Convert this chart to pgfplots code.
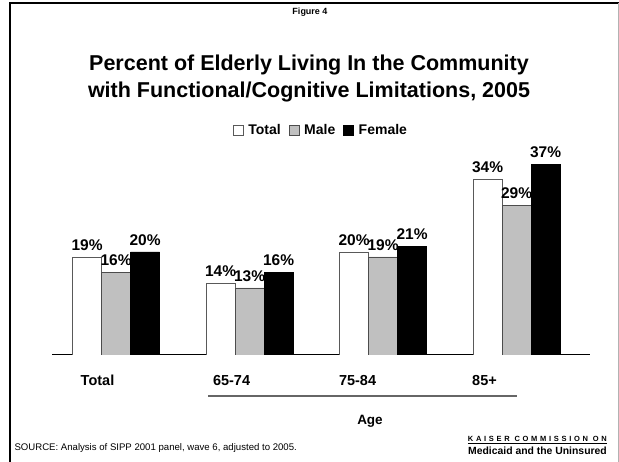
\documentclass[border=0pt]{standalone}
\usepackage{fontspec}
\setmainfont{Liberation Sans}
\setsansfont{Liberation Sans}
\usepackage{pgfplots}
\pgfplotsset{compat=1.18}
\definecolor{barGray}{RGB}{192,192,192}
\begin{document}
\begin{tikzpicture}[x=1pt,y=1pt]
  \useasboundingbox (0,0) rectangle (619,462);
  % frame
  \draw[line width=2pt] (10,0) -- (10,459) -- (619,459);
  \draw[gray!60,line width=0.8pt] (618,459) -- (618,0);
  % headings
  \node[font=\fontsize{9}{10}\selectfont\bfseries] at (310,450) {Figure 4};
  \node[font=\fontsize{21.5}{27}\selectfont\bfseries,align=center] at (309,384)
    {Percent of Elderly Living In the Community\\with Functional/Cognitive Limitations, 2005};
  \begin{axis}[
    at={(52pt,107pt)}, anchor=south west,
    scale only axis, width=538pt, height=206.4pt,
    xmin=-0.48, xmax=3.55, ymin=0, ymax=40,
    axis x line=bottom, axis y line=none,
    axis line style={-,black,line width=1pt},
    ybar=0pt, bar width=29pt,
    xtick={-0.139,0.865,1.809,2.76},
    xticklabels={Total,65-74,75-84,85+},
    major tick length=0pt,
    xticklabel style={font=\fontsize{14.5}{15}\selectfont\bfseries,anchor=base,yshift=-31pt},
    ytick=\empty,
    /pgf/number format/assume math mode=true,
    nodes near coords={\pgfmathprintnumber{\pgfplotspointmeta}\%},
    every node near coord/.append style={font=\fontsize{15.5}{16}\selectfont\bfseries,black,yshift=3pt},
    legend style={draw=none,at={(0.5,1.09)},anchor=center,
      font=\fontsize{14}{15}\selectfont\bfseries,
      /tikz/every odd column/.append style={column sep=3pt},
      /tikz/every even column/.append style={column sep=6pt}},
    legend columns=-1,
    legend image code/.code={\draw[#1] (0pt,-5pt) rectangle (10pt,5pt);},
  ]
    \addplot[fill=white,draw=gray!70!black] coordinates {(0,19) (1,14) (2,20) (3,34)};
    \addplot[fill=barGray,draw=gray!60!black] coordinates {(0,16) (1,13) (2,19) (3,29)};
    \addplot[fill=black,draw=black] coordinates {(0,20) (1,16) (2,21) (3,37)};
    \legend{Total,Male,Female}
  \end{axis}
  % age bracket
  \draw[gray!80!black,line width=1.5pt] (208,66) -- (517,66);
  \node[font=\fontsize{13.5}{14}\selectfont\bfseries] at (370,41) {Age};
  % footer
  \node[anchor=west,font=\fontsize{9.6}{10}\selectfont] at (11,14)
    {SOURCE: Analysis of SIPP 2001 panel, wave 6, adjusted to 2005.};
  \node[anchor=east,font=\fontsize{7.5}{8}\selectfont\bfseries\addfontfeatures{LetterSpace=36},inner sep=0pt] at (607,22)
    {\underline{KAISER COMMISSION ON}};
  \node[anchor=east,font=\fontsize{10.4}{11}\selectfont\bfseries,inner sep=0pt] at (607,11)
    {Medicaid and the Uninsured};
\end{tikzpicture}
\end{document}
